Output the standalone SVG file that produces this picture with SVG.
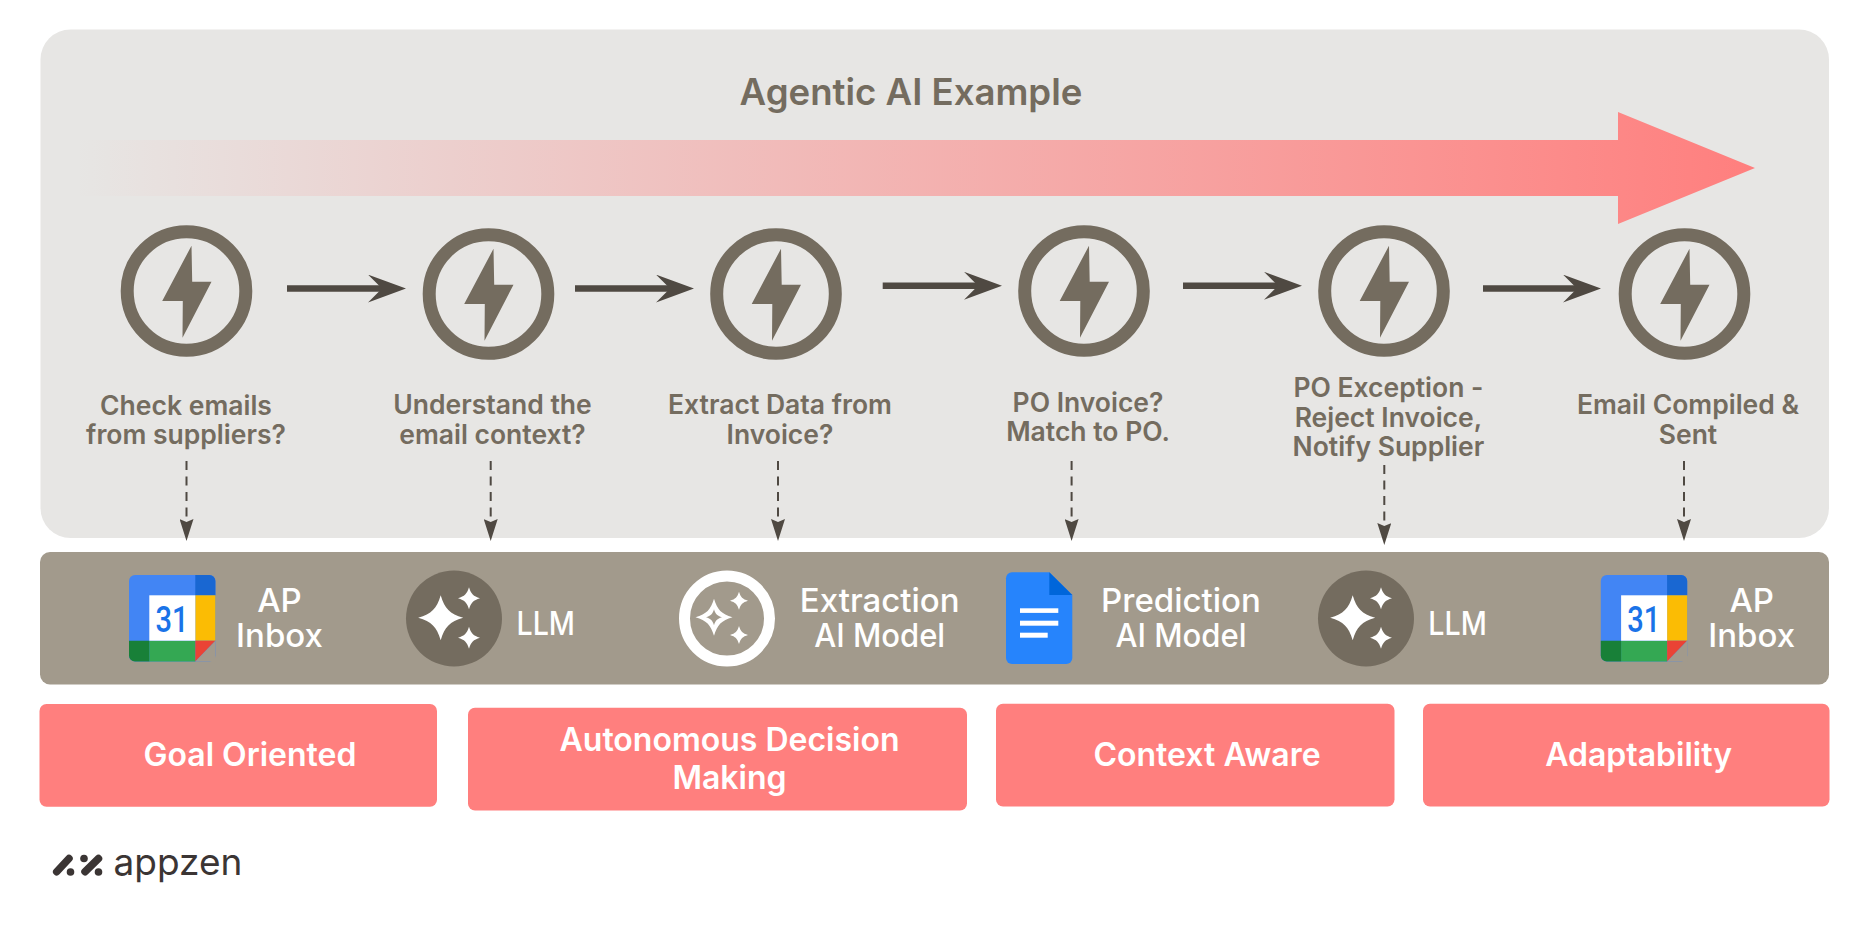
<svg xmlns="http://www.w3.org/2000/svg" width="1868" height="931" viewBox="0 0 1868 931">
<style>
text{font-family:"Inter","Liberation Sans",sans-serif;text-anchor:middle}
.title{font-size:36.6px;font-weight:600;fill:#746c5f}
.step{font-size:26.5px;font-weight:600;fill:#746c5f}
.model{font-size:33px;font-weight:500;fill:#fff}
.trait{font-size:32px;font-weight:600;fill:#fff}
.ring{fill:none;stroke:#746c5f;stroke-width:13}
.bolt{fill:#746c5f}
.flow{stroke:#4f4942;stroke-width:6.5;fill:none}
.dash{stroke:#4f4942;stroke-width:2;stroke-dasharray:9 6.5;fill:none}
.pink{fill:#ff7f7e}
</style>
<defs>
<linearGradient id="fade" gradientUnits="userSpaceOnUse" x1="75" y1="0" x2="1755" y2="0">
<stop offset="0" stop-color="#ff7f7e" stop-opacity="0"/><stop offset="1" stop-color="#ff7f7e"/>
</linearGradient>
<marker id="solidHead" markerUnits="userSpaceOnUse" markerWidth="38" markerHeight="28" refX="14" refY="14" orient="auto"><path d="M0,0L38,14L0,28L14,14Z" fill="#4f4942"/></marker>
<marker id="dashHead" markerUnits="userSpaceOnUse" markerWidth="22" markerHeight="14" refX="3" refY="7" orient="auto"><path d="M0,0L22,7L0,14L3,7Z" fill="#4f4942"/></marker>
<g id="agent"><circle class="ring" r="59.3"/><path class="bolt" d="M5,-45.3L5.7,-9.3L25,-9.3L-4,46.7L-3.7,10L-24.3,10Z"/></g>
<path id="star" d="M0,-1C.18,-.4 .4,-.18 1,0C.4,.18 .18,.4 0,1C-.18,.4 -.4,.18 -1,0C-.4,-.18 -.18,-.4 0,-1Z"/>
<g id="cal">
<rect x="129" y="575" width="86.4" height="86.4" rx="6" fill="#4285f4"/>
<path d="M195.3,575H209.4a6,6 0 0 1 6,6V595.3H195.3Z" fill="#1967d2"/>
<rect x="195.3" y="595.3" width="20.1" height="45.4" fill="#fbbc04"/>
<path d="M149.3,640.7H195.3V661.4H149.3Z" fill="#34a853"/>
<path d="M129,640.7H149.3V661.4H135a6,6 0 0 1 -6,-6Z" fill="#188038"/>
<path d="M195.3,640.7H215.4L195.3,661.4Z" fill="#ea4335"/>
<path d="M195.3,661.4L215.4,640.7V661.4Z" fill="#a29a8c"/>
<rect x="149.3" y="595.3" width="46" height="45.4" fill="#fff"/>
<text x="172" y="631.5" textLength="33" lengthAdjust="spacingAndGlyphs" style="font-family:Roboto,sans-serif;font-size:37px;font-weight:500;fill:#1a73e8">31</text>
</g>
</defs>
<rect id="panel" x="40.5" y="29.5" width="1788.5" height="508.5" rx="30" fill="#e7e6e4"/>
<text id="title" class="title" x="911" y="105">Agentic AI Example</text>
<path id="bigArrow" d="M75,140H1618V112L1755,168L1618,224V196H75Z" fill="url(#fade)"/>
<g id="connectors">
<path class="flow" d="M287,288.6H382" marker-end="url(#solidHead)"/>
<path class="flow" d="M575,288.6H670" marker-end="url(#solidHead)"/>
<path class="flow" d="M882.7,285.8H978" marker-end="url(#solidHead)"/>
<path class="flow" d="M1183,285.8H1278" marker-end="url(#solidHead)"/>
<path class="flow" d="M1483,288.6H1577" marker-end="url(#solidHead)"/>
<path class="dash" d="M186.5,461V522" marker-end="url(#dashHead)"/>
<path class="dash" d="M490.7,461V522" marker-end="url(#dashHead)"/>
<path class="dash" d="M778,461V522" marker-end="url(#dashHead)"/>
<path class="dash" d="M1071.6,461V522" marker-end="url(#dashHead)"/>
<path class="dash" d="M1384.3,465V526" marker-end="url(#dashHead)"/>
<path class="dash" d="M1684,461V522" marker-end="url(#dashHead)"/>
</g>
<g id="step1"><use href="#agent" x="186.5" y="291"/><text class="step" x="186" y="415">Check emails</text><text class="step" x="186" y="444">from suppliers?</text></g>
<g id="step2"><use href="#agent" x="488.5" y="294"/><text class="step" x="492.5" y="414">Understand the</text><text class="step" x="492.5" y="443.5">email context?</text></g>
<g id="step3"><use href="#agent" x="776" y="294"/><text class="step" x="780" y="414">Extract Data from</text><text class="step" x="780" y="443.5">Invoice?</text></g>
<g id="step4"><use href="#agent" x="1084" y="291"/><text class="step" x="1088" y="411.5">PO Invoice?</text><text class="step" x="1088" y="441">Match to PO.</text></g>
<g id="step5"><use href="#agent" x="1384" y="291"/><text class="step" x="1388.4" y="397">PO Exception -</text><text class="step" x="1388.4" y="426.5">Reject Invoice,</text><text class="step" x="1388.4" y="455.5">Notify Supplier</text></g>
<g id="step6"><use href="#agent" x="1684.5" y="294"/><text class="step" x="1688" y="414">Email Compiled &amp;</text><text class="step" x="1688" y="443.5">Sent</text></g>
<rect id="band" x="40" y="552" width="1789" height="132.5" rx="10" fill="#a29a8c"/>
<g id="tool1"><use href="#cal"/><text class="model" x="279.5" y="611.5">AP</text><text class="model" x="279.5" y="647">Inbox</text></g>
<g id="tool2"><circle cx="454" cy="618.5" r="48" fill="#746c5f"/><use href="#star" transform="translate(440.7 617.7) scale(22.5)" fill="#fff"/><use href="#star" transform="translate(469 598.3) scale(11)" fill="#fff"/><use href="#star" transform="translate(469 637.7) scale(11)" fill="#fff"/><text class="model" x="545.7" y="635" textLength="58.5" lengthAdjust="spacingAndGlyphs">LLM</text></g>
<g id="tool3"><circle cx="727" cy="618.5" r="42.5" fill="none" stroke="#fff" stroke-width="11"/><use href="#star" transform="translate(714 617.3) scale(18.5)" fill="#fff"/><use href="#star" transform="translate(714 617.3) scale(8)" fill="#a29a8c"/><use href="#star" transform="translate(739 600.7) scale(9)" fill="#fff"/><use href="#star" transform="translate(739 635) scale(9)" fill="#fff"/><text class="model" x="879.7" y="611.5">Extraction</text><text class="model" x="879.7" y="647" textLength="131" lengthAdjust="spacingAndGlyphs">AI Model</text></g>
<g id="tool4"><path d="M1012,572.3H1049.3L1072.3,595V658a6,6 0 0 1 -6,6H1012a6,6 0 0 1 -6,-6V578.3a6,6 0 0 1 6,-6Z" fill="#2684fc"/><path d="M1049.3,572.3L1072.3,595H1049.3Z" fill="#0066da"/><rect x="1020" y="608.3" width="38.3" height="4.6" fill="#fff"/><rect x="1020" y="620.7" width="38.3" height="5" fill="#fff"/><rect x="1020" y="632.7" width="27.7" height="5" fill="#fff"/><text class="model" x="1181" y="611.5">Prediction</text><text class="model" x="1181" y="647" textLength="131" lengthAdjust="spacingAndGlyphs">AI Model</text></g>
<g id="tool5"><circle cx="1366" cy="618.5" r="48" fill="#746c5f"/><use href="#star" transform="translate(1352.7 617.7) scale(22.5)" fill="#fff"/><use href="#star" transform="translate(1381 598.3) scale(11)" fill="#fff"/><use href="#star" transform="translate(1381 637.7) scale(11)" fill="#fff"/><text class="model" x="1457.6" y="635" textLength="58.5" lengthAdjust="spacingAndGlyphs">LLM</text></g>
<g id="tool6"><use href="#cal" x="1471.8"/><text class="model" x="1751.7" y="611.5">AP</text><text class="model" x="1751.7" y="647">Inbox</text></g>
<g id="trait1"><rect class="pink" x="39.5" y="704" width="397.5" height="102.8" rx="7"/><text class="trait" x="250" y="765.5">Goal Oriented</text></g>
<g id="trait2"><rect class="pink" x="468" y="707.7" width="499" height="102.8" rx="7"/><text class="trait" x="729.5" y="751">Autonomous Decision</text><text class="trait" x="729.5" y="789">Making</text></g>
<g id="trait3"><rect class="pink" x="996" y="703.7" width="398.5" height="102.8" rx="7"/><text class="trait" x="1207" y="766">Context Aware</text></g>
<g id="trait4"><rect class="pink" x="1423" y="703.7" width="406.5" height="102.8" rx="7"/><text class="trait" x="1638.6" y="766">Adaptability</text></g>
<g id="logo"><g stroke="#3b3534" stroke-width="7.5" stroke-linecap="round" fill="none"><path d="M56.7,871.7L69,858.5"/><path d="M85,871.7L98.5,858.5"/></g><g fill="#3b3534"><circle cx="70.5" cy="872" r="3.8"/><circle cx="84" cy="858.5" r="3.8"/><circle cx="98.5" cy="872" r="3.8"/></g><text x="178" y="875" style="font-size:37px;font-weight:400;fill:#3b3534">appzen</text></g>
</svg>
